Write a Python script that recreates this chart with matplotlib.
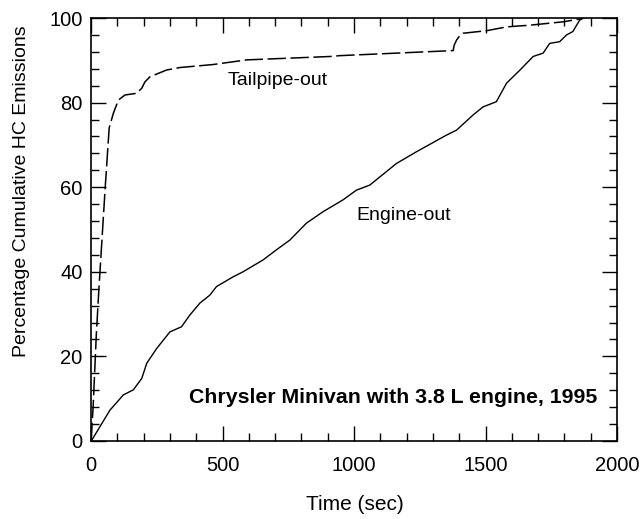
import numpy as np
import matplotlib
matplotlib.use("Agg")
import matplotlib.pyplot as plt
from matplotlib.ticker import MultipleLocator

plt.rcParams['font.family'] = ['Liberation Sans', 'DejaVu Sans']

# tailpipe-out (dashed)
tail_t = [0, 8, 20, 30, 37, 54, 69, 85, 104, 129, 173, 193, 205, 224, 287, 339,
          464, 592, 908, 946, 1377, 1381, 1390, 1402, 1415, 1504, 1580, 1668, 1795, 1871]
tail_v = [0, 8, 25, 36, 43, 60, 74, 77.5, 80.6, 81.8, 82.2, 83.4, 84.9, 86.1, 87.7, 88.3,
          89.0, 90.1, 90.9, 91.1, 92.3, 93.6, 94.8, 95.8, 96.4, 97.0, 97.9, 98.3, 99.1, 99.9]

# engine-out (solid)
eng_t = [0, 3, 34, 72, 123, 161, 193, 212, 250, 300, 344, 376, 414, 452, 477, 540,
         578, 654, 705, 756, 819, 882, 958, 1009, 1060, 1161, 1238, 1351, 1390, 1453,
         1491, 1541, 1580, 1631, 1681, 1719, 1744, 1782, 1808, 1832, 1858, 1871]
eng_v = [0, 0.2, 3.4, 7.3, 10.9, 12.1, 14.8, 18.4, 21.9, 25.8, 27.0, 29.8, 32.6, 34.5,
         36.5, 38.8, 40.0, 42.8, 45.2, 47.5, 51.5, 54.2, 57.0, 59.3, 60.5, 65.6, 68.4,
         72.3, 73.5, 77.1, 79.0, 80.2, 84.6, 87.7, 90.9, 91.7, 94.0, 94.4, 96.0, 96.8,
         99.5, 100]

fig = plt.figure(figsize=(6.41, 5.19), dpi=100)
ax = fig.add_axes([0.142, 0.1503, 0.8206, 0.815])

ax.plot(tail_t, tail_v, color='black', lw=1.1, dashes=(12, 3))
ax.plot(eng_t, eng_v, color='black', lw=1.0)

ax.set_xlim(0, 2000)
ax.set_ylim(0, 100)
ax.xaxis.set_major_locator(MultipleLocator(500))
ax.xaxis.set_minor_locator(MultipleLocator(100))
ax.yaxis.set_major_locator(MultipleLocator(20))
ax.yaxis.set_minor_locator(MultipleLocator(4))
ax.tick_params(which='both', direction='in', top=True, right=True, width=1.0)
ax.tick_params(which='major', length=11, labelsize=14.5)
ax.tick_params(axis='x', which='major', pad=11)
ax.tick_params(axis='y', which='major', pad=6)
ax.tick_params(which='minor', length=6)
for s in ax.spines.values():
    s.set_linewidth(1.2)

ax.text(710, 85.3, 'Tailpipe-out', fontsize=14, ha='center', va='center')
ax.text(1189, 53.4, 'Engine-out', fontsize=14, ha='center', va='center')
ax.text(1150, 10.2, 'Chrysler Minivan with 3.8 L engine, 1995', fontsize=15.3,
        fontweight='bold', ha='center', va='center')

fig.text(355 / 641, 1 - 505 / 519, 'Time (sec)', fontsize=15, ha='center', va='center')
fig.text(22 / 641, 1 - 191 / 519, 'Percentage Cumulative HC Emissions', fontsize=14,
         rotation=90, ha='center', va='center')

fig.savefig('out.png', dpi=100)
